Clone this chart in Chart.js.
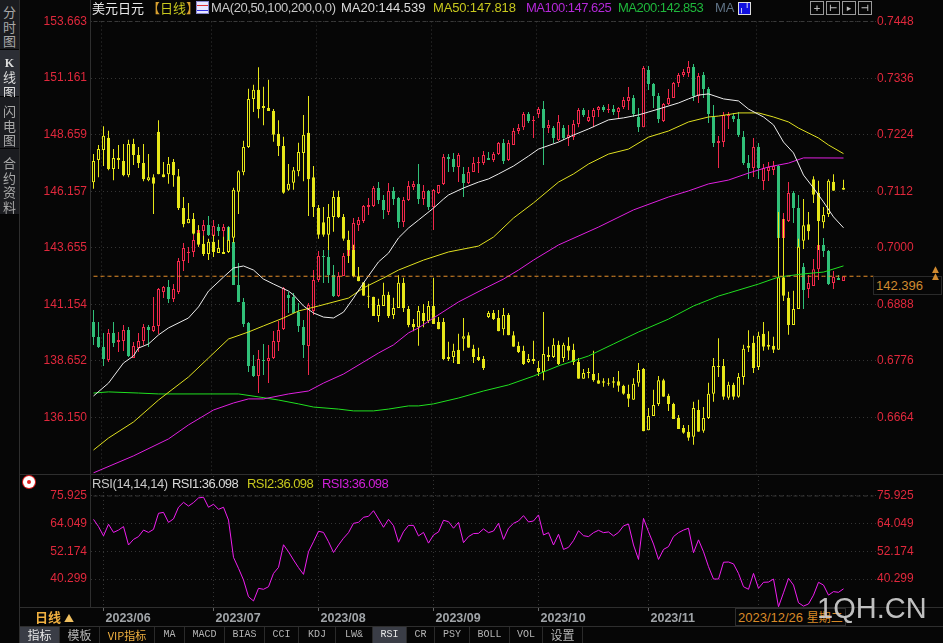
<!DOCTYPE html>
<html><head><meta charset="utf-8">
<script src="https://cdn.jsdelivr.net/npm/chart.js@4/dist/chart.umd.min.js"></script>
<style>
html,body{margin:0;padding:0;background:#060606;width:943px;height:643px;overflow:hidden;font-family:"Liberation Sans",Arial,sans-serif}
#c1,#c2,.a{position:absolute}
#c1{left:0;top:0}#c2{left:0;top:474px}
.a{white-space:nowrap}
.line{background:#2e2e2e}
.side{left:0;width:19px;background:#1b1c20;color:#a8a8a8;text-align:center;font:13px/14.5px "Noto Sans CJK SC";border-bottom:1px solid #050505;box-sizing:border-box;padding-top:5px}
.leg{top:0;font-size:13px;line-height:16px}
.tab{top:627px;height:16px;text-align:center;font:10px/16px "Liberation Mono",monospace;color:#b4b4b4;border-right:1px solid #2a2a2a;box-sizing:border-box}
.tab.cn{font:12px/16px "Noto Sans CJK SC"}
.tbtn{top:1px;width:12px;height:12px;border:1px solid #9a9a9a;color:#bbb;font:bold 9px/12px "DejaVu Sans";text-align:center}
</style></head><body>
<canvas id="c1" width="943" height="474"></canvas>
<canvas id="c2" width="943" height="153"></canvas>

<div class="a line" style="left:19px;top:0;width:1px;height:643px"></div>
<div class="a line" style="left:90px;top:0;width:1px;height:608px"></div>
<div class="a line" style="left:20px;top:474px;width:923px;height:1px"></div>
<div class="a line" style="left:20px;top:607px;width:923px;height:1px"></div>
<div class="a line" style="left:20px;top:626px;width:923px;height:1px"></div>

<div class="a side" style="top:0;height:50px">分<br>时<br>图</div>
<div class="a side" style="top:50px;height:47px;background:#2c2e35;color:#ddd"><b style="font:bold 12px/14px 'Liberation Serif'">K</b><br>线<br>图</div>
<div class="a side" style="top:97px;height:52px;padding-top:7px">闪<br>电<br>图</div>
<div class="a side" style="top:149px;height:66px;padding-top:7px">合<br>约<br>资<br>料</div>

<div class="a leg" style="left:92px;font:13px/16px 'Noto Sans CJK SC';color:#e8e8e8">美元日元 <span style="color:#d8a030">【</span><span style="color:#c8c81e">日线</span><span style="color:#d8a030">】</span></div>
<div class="a" style="left:196px;top:1px;width:11px;height:11px;background:#e8e8ff;border:1px solid #8888cc;overflow:hidden"><div style="width:11px;height:4px;margin-top:3px;border-top:1px solid #e03030;border-bottom:1px solid #3030e0"></div></div>
<div class="a leg" style="left:211px;color:#c8c8c8;letter-spacing:-.4px">MA(20,50,100,200,0,0)</div>
<div class="a leg" style="left:341px;color:#dcdcdc">MA20:144.539</div>
<div class="a leg" style="left:433px;color:#c8c81e;letter-spacing:-.15px">MA50:147.818</div>
<div class="a leg" style="left:526px;color:#b428d8;letter-spacing:-.5px">MA100:147.625</div>
<div class="a leg" style="left:618px;color:#1fb83c;letter-spacing:-.5px">MA200:142.853</div>
<div class="a leg" style="left:715px;color:#5f7285">MA</div>
<div class="a" style="left:738px;top:2px;width:11px;height:11px;background:#1010e0;border:1px solid #ddd;color:#fff;font:bold 9px/11px 'DejaVu Sans';text-align:center">╷╵</div>
<div class="a tbtn" style="left:810px">+</div>
<div class="a tbtn" style="left:826px">⊢</div>
<div class="a tbtn" style="left:842px">▸</div>
<div class="a tbtn" style="left:858px">⊣</div>

<div class="a" style="left:873px;top:276px;width:67px;height:17px;border:1px solid #2a2a2a;box-sizing:content-box;color:#d08a30;font-size:13px;line-height:17px;text-indent:2px;background:#060606">142.396</div>
<div class="a" style="left:932px;top:266px;color:#d08a30;font:9px/7px 'DejaVu Sans'">▲<br>▲</div>

<div class="a" style="left:23px;top:476px;width:12px;height:12px;border-radius:6px;background:#fff;border:0;box-shadow:0 0 0 1px #e02020"><div style="width:4px;height:4px;margin:4px;border-radius:2px;background:#e02020"></div></div>
<div class="a leg" style="left:92px;top:476px;color:#c8c8c8;letter-spacing:-.4px">RSI(14,14,14)</div>
<div class="a leg" style="left:172px;top:476px;color:#dcdcdc;letter-spacing:-.55px">RSI1:36.098</div>
<div class="a leg" style="left:247px;top:476px;color:#c8c81e;letter-spacing:-.55px">RSI2:36.098</div>
<div class="a leg" style="left:322px;top:476px;color:#d020d8;letter-spacing:-.55px">RSI3:36.098</div>

<div class="a" style="left:20px;top:608px;width:69px;height:18px;text-align:center;color:#f0b040;font:bold 13px/18px 'Noto Sans CJK SC'">日线 <span style="font-size:10px;color:#f0c060">▲</span></div>
<div class="a" style="left:735px;top:608px;width:109px;height:16px;border:1px solid #2e2e2e;background:#060606;color:#d88a28;font:13px/16px 'Liberation Sans','Noto Sans CJK SC';text-indent:2px">2023/12/26 <span style="font-family:'Noto Sans CJK SC';font-size:12px">星期二</span></div>
<div class="a" style="left:817px;top:591px;color:#d0d0d0;font:29px/34px 'Liberation Sans';opacity:.92">1QH.CN</div>

<div class="a tab cn" style="left:20px;width:40px;background:#3a3d46;color:#e8e8e8">指标</div>
<div class="a tab cn" style="left:60px;width:40px">模板</div>
<div class="a tab cn" style="left:100px;width:55px;color:#f0b040;font-size:11px">VIP指标</div>
<div class="a tab" style="left:155px;width:30px">MA</div>
<div class="a tab" style="left:185px;width:40px">MACD</div>
<div class="a tab" style="left:225px;width:40px">BIAS</div>
<div class="a tab" style="left:265px;width:34px">CCI</div>
<div class="a tab" style="left:299px;width:37px">KDJ</div>
<div class="a tab" style="left:336px;width:37px">LW&amp;</div>
<div class="a tab" style="left:373px;width:34px;background:#3a3d46;color:#e8e8e8">RSI</div>
<div class="a tab" style="left:407px;width:28px">CR</div>
<div class="a tab" style="left:435px;width:35px">PSY</div>
<div class="a tab" style="left:470px;width:40px">BOLL</div>
<div class="a tab" style="left:510px;width:33px">VOL</div>
<div class="a tab cn" style="left:543px;width:40px">设置</div>

<script>
// ---------- axis labels ----------
const leftTicks=[153.663,151.161,148.659,146.157,143.655,141.154,138.652,136.150];
const rightTicks=[0.7448,0.7336,0.7224,0.7112,0.7000,0.6888,0.6776,0.6664];
const rsiTicks=[75.925,64.049,52.174,40.299];
const monthTicks={2:'2023/06',24:'2023/07',45:'2023/08',68:'2023/09',89:'2023/10',111:'2023/11',133:''};
const lastPrice=142.396;

// ---------- USD/JPY candles (left axis) ----------
const jpyOpen=[140.37,139.71,139.27,138.69,139.89,139.49,139.53,140.02,138.78,139.22,
139.53,140.15,139.97,140.20,141.70,141.92,141.39,141.70,143.07,143.42,
143.47,144.00,144.40,144.66,144.18,144.57,144.40,144.57,143.91,142.01,
141.26,140.33,138.43,137.98,138.69,138.65,138.78,139.49,140.06,141.57,
141.48,140.81,140.15,139.31,140.86,142.23,143.29,143.25,142.45,141.52,
142.41,143.29,143.56,144.66,144.84,145.46,145.50,146.30,145.77,145.24,
146.17,145.86,144.80,145.77,146.34,146.48,145.81,146.17,145.46,146.08,
146.48,147.67,147.58,147.23,146.92,146.52,147.01,147.40,147.40,147.63,
147.54,147.80,148.29,147.54,148.20,148.82,148.99,149.57,149.26,149.57,
149.79,148.95,148.95,148.42,148.95,148.51,148.55,149.13,149.75,149.26,
149.44,149.75,149.88,149.75,149.79,149.66,149.88,150.15,150.28,149.44,
148.99,151.52,150.90,150.37,149.26,150.01,150.28,150.94,151.30,151.39,
151.65,150.37,151.30,150.68,149.44,148.29,148.33,149.48,149.48,149.35,
148.55,147.40,147.18,148.11,146.61,147.05,147.10,147.27,144.09,144.84,
146.08,145.41,142.80,141.83,141.96,142.71,143.78,143.51,142.10,142.32,142.19];
const jpyHigh=[140.90,140.37,139.89,140.06,140.37,139.93,140.24,140.15,139.49,139.89,
140.28,140.24,141.48,141.88,141.96,142.23,142.05,143.20,143.87,143.69,
144.22,144.66,144.88,145.06,144.88,144.71,144.71,144.62,144.00,142.98,
141.43,140.37,138.91,139.13,139.40,139.36,139.97,140.42,141.92,141.70,
141.65,141.21,140.46,141.21,142.67,143.51,143.56,143.78,142.89,142.58,
143.42,144.00,144.97,145.02,145.55,145.86,146.39,146.56,145.99,146.52,
146.34,145.90,145.90,146.61,146.61,147.36,146.43,146.21,146.25,146.43,
147.80,147.80,147.85,147.85,147.23,147.23,147.67,147.67,147.94,147.89,
147.89,148.33,148.47,148.42,148.95,149.13,149.66,149.66,149.48,149.88,
150.15,149.31,149.04,149.53,149.08,149.08,149.31,149.84,149.84,149.75,
149.84,149.93,149.97,150.01,149.97,149.88,150.32,150.77,150.41,149.84,
151.69,151.69,150.94,150.50,150.06,150.68,150.99,151.39,151.56,151.92,
151.78,151.39,151.43,150.77,149.97,148.60,149.66,149.66,149.62,149.66,
148.82,147.76,148.51,148.29,147.36,147.45,147.49,147.32,145.19,146.56,
146.17,145.99,142.98,142.45,143.16,143.78,144.09,143.56,142.63,142.45,142.396];
const jpyLow=[139.36,139.22,138.43,138.60,139.27,139.05,139.09,138.82,138.78,139.05,
139.36,139.27,139.93,139.84,141.43,141.21,141.26,141.61,142.63,142.98,
143.25,143.69,144.18,144.18,143.96,144.18,144.13,143.87,142.01,141.26,
140.15,138.16,137.94,137.23,138.03,137.67,138.74,139.09,140.02,140.77,
140.77,139.93,138.78,138.03,140.68,142.14,142.10,142.10,141.48,141.48,
142.41,142.98,143.56,144.40,144.75,145.11,145.46,145.59,144.93,145.11,
145.55,144.53,144.57,145.72,146.21,145.59,145.55,145.33,144.44,146.03,
146.43,147.01,147.01,146.56,145.90,146.48,147.01,146.96,147.32,147.54,
147.45,147.76,147.36,147.49,148.20,148.69,148.86,149.17,148.51,149.39,
147.32,148.73,148.29,148.38,148.42,148.16,148.42,148.99,149.44,149.22,
148.99,149.44,149.66,149.62,149.53,149.39,149.79,149.75,149.44,148.78,
148.99,150.63,149.84,149.17,149.22,149.97,150.28,150.77,151.21,151.21,
150.15,150.06,150.28,149.17,148.11,147.18,148.11,148.91,149.22,148.55,
147.32,146.70,146.79,146.70,146.21,146.61,146.87,144.09,144.00,144.80,
144.75,143.56,140.95,141.43,141.96,142.23,143.25,142.01,141.83,142.23,142.19];
const jpyClose=[139.71,139.27,138.74,139.89,139.44,139.58,140.02,138.87,139.31,139.53,
140.15,140.02,140.20,141.83,141.92,141.39,141.83,143.07,143.65,143.47,
144.00,144.44,144.66,144.22,144.62,144.40,144.57,143.91,142.01,141.26,
140.28,138.43,137.98,138.74,138.65,138.78,139.53,140.02,141.88,141.43,
140.77,140.20,139.36,141.12,142.23,143.29,143.25,142.45,141.52,142.41,
143.29,143.56,144.75,144.88,145.50,145.55,146.30,145.77,145.33,146.17,
145.81,144.80,145.77,146.39,146.48,145.81,146.17,145.46,146.21,146.43,
147.67,147.58,147.23,147.76,146.52,147.01,147.40,147.45,147.76,147.54,
147.80,148.29,147.49,148.29,148.82,148.95,149.57,149.26,149.31,149.79,
148.95,149.08,148.51,149.22,148.51,148.64,149.13,149.75,149.53,149.44,
149.75,149.88,149.75,149.79,149.66,149.84,150.19,150.32,149.57,148.99,
151.61,150.90,150.37,149.35,150.01,150.28,150.94,151.30,151.43,151.65,
150.37,151.25,150.68,149.57,148.29,148.38,149.53,149.53,149.35,148.64,
147.40,147.18,148.11,147.18,147.18,147.23,147.27,144.09,144.93,146.08,
145.41,143.56,141.79,142.10,142.71,143.78,143.51,142.05,142.36,142.23,142.396];

// ---------- overlay candles, yellow (right axis) ----------
const ovOpen=[.7130,.7174,.7194,.7218,.7156,.7178,.7172,.7144,.7206,.7184,
.7168,.7134,.7140,.7230,.7146,.7146,.7170,.7142,.7079,.7049,
.7057,.7030,.7008,.6988,.7012,.6990,.6992,.6992,.7020,.7111,
.7150,.7200,.7295,.7313,.7281,.7277,.7271,.7226,.7202,.7115,
.7129,.7152,.7188,.7228,.7140,.7079,.7051,.7026,.7061,.7101,
.7061,.7016,.6996,.6944,.6932,.6905,.6903,.6865,.6885,.6907,
.6867,.6881,.6931,.6879,.6849,.6843,.6871,.6855,.6885,.6853,
.6853,.6784,.6784,.6798,.6820,.6827,.6800,.6784,.6780,.6863,
.6871,.6861,.6839,.6867,.6827,.6806,.6796,.6774,.6780,.6762,
.6754,.6788,.6784,.6808,.6782,.6806,.6798,.6774,.6741,.6754,
.6750,.6738,.6736,.6733,.6736,.6736,.6727,.6711,.6699,.6733,
.6760,.6639,.6667,.6691,.6738,.6707,.6691,.6663,.6643,.6636,
.6626,.6679,.6638,.6663,.6711,.6766,.6766,.6703,.6729,.6705,
.6744,.6802,.6812,.6764,.6830,.6808,.6806,.6798,.6942,.6901,
.6847,.6879,.7014,.7047,.7136,.7109,.7051,.7067,.7131,null,.7119];
const ovHigh=[.7186,.7204,.7241,.7232,.7196,.7204,.7206,.7214,.7216,.7200,
.7206,.7186,.7146,.7253,.7170,.7180,.7176,.7156,.7101,.7089,
.7069,.7045,.7024,.7018,.7026,.7016,.7022,.7041,.7119,.7154,
.7212,.7315,.7323,.7358,.7319,.7333,.7275,.7253,.7220,.7166,
.7160,.7208,.7263,.7301,.7162,.7085,.7081,.7087,.7113,.7113,
.7067,.7034,.7006,.6962,.6932,.6929,.6903,.6899,.6931,.6913,
.6901,.6946,.6941,.6885,.6859,.6885,.6889,.6895,.6941,.6863,
.6861,.6814,.6810,.6830,.6861,.6833,.6808,.6802,.6786,.6875,
.6877,.6877,.6881,.6871,.6835,.6814,.6806,.6790,.6816,.6776,
.6873,.6804,.6821,.6816,.6812,.6823,.6810,.6782,.6760,.6762,
.6796,.6752,.6742,.6742,.6744,.6756,.6729,.6729,.6742,.6772,
.6762,.6683,.6719,.6746,.6741,.6711,.6693,.6669,.6649,.6649,
.6695,.6699,.6685,.6733,.6782,.6821,.6780,.6735,.6733,.6752,
.6808,.6837,.6826,.6834,.6853,.6835,.6824,.7071,.7057,.6913,
.6915,.7018,.7097,.7071,.7142,.7133,.7081,.7136,.7146,null,.7135];
const ovLow=[.7117,.7140,.7162,.7154,.7134,.7156,.7142,.7140,.7164,.7158,
.7132,.7132,.7067,.7146,.7140,.7127,.7121,.7075,.7041,.7049,
.7026,.7002,.6984,.6976,.6982,.6990,.6988,.6990,.7010,.7067,
.7144,.7198,.7269,.7257,.7243,.7271,.7210,.7182,.7107,.7113,
.7115,.7142,.7132,.7063,.7061,.7018,.7022,.6996,.7032,.7059,
.7014,.6970,.6942,.6934,.6905,.6881,.6865,.6853,.6885,.6861,
.6859,.6881,.6873,.6843,.6835,.6806,.6843,.6851,.6849,.6839,
.6778,.6776,.6772,.6770,.6796,.6802,.6772,.6776,.6758,.6861,
.6857,.6835,.6827,.6827,.6804,.6792,.6768,.6772,.6770,.6746,
.6738,.6776,.6782,.6768,.6774,.6778,.6768,.6741,.6741,.6742,
.6735,.6731,.6725,.6727,.6723,.6715,.6709,.6685,.6699,.6725,
.6637,.6639,.6667,.6687,.6705,.6677,.6661,.6641,.6632,.6618,
.6610,.6636,.6634,.6661,.6695,.6744,.6699,.6699,.6699,.6703,
.6729,.6794,.6752,.6758,.6796,.6798,.6792,.6798,.6895,.6828,
.6847,.6879,.6998,.7016,.7089,.6996,.7039,.7061,.7113,null,.7115];
const ovClose=[.7172,.7196,.7222,.7156,.7178,.7174,.7144,.7206,.7184,.7168,
.7136,.7140,.7127,.7146,.7140,.7166,.7144,.7079,.7047,.7057,
.7028,.7006,.6988,.7012,.6992,.7000,.6988,.7016,.7115,.7152,
.7200,.7295,.7313,.7275,.7277,.7271,.7224,.7202,.7109,.7127,
.7154,.7190,.7224,.7136,.7081,.7026,.7026,.7061,.7101,.7061,
.7018,.6996,.6944,.6934,.6905,.6903,.6865,.6887,.6907,.6865,
.6881,.6931,.6881,.6847,.6843,.6875,.6855,.6885,.6849,.6839,
.6780,.6780,.6796,.6770,.6825,.6802,.6784,.6778,.6762,.6871,
.6859,.6835,.6867,.6827,.6804,.6794,.6770,.6780,.6776,.6754,
.6790,.6784,.6808,.6770,.6808,.6796,.6774,.6741,.6752,.6752,
.6738,.6731,.6733,.6731,.6733,.6727,.6711,.6701,.6731,.6758,
.6637,.6667,.6689,.6738,.6705,.6691,.6661,.6641,.6634,.6624,
.6683,.6636,.6663,.6711,.6766,.6764,.6705,.6729,.6705,.6744,
.6800,.6806,.6762,.6826,.6804,.6804,.6798,.6942,.6905,.6847,
.6879,.7002,.7045,.7033,.7105,.7053,.7065,.7133,.7113,null,.7115];

// ---------- moving averages: [candle index, value] vertices ----------
const ma20=[[0,137.10],[3,137.67],[6,138.56],[8,138.87],[9,139.22],[11,139.40],[13,139.80],[15,140.11],[19,140.55],[21,141.04],[23,141.74],[26,142.36],[28,142.76],[30,142.85],[32,142.67],[34,142.27],[36,142.05],[39,141.74],[40,141.57],[42,141.08],[44,140.77],[46,140.59],[48,140.55],[50,140.81],[52,141.43],[54,142.10],[57,143.03],[59,143.42],[61,144.09],[63,144.53],[65,144.88],[68,145.41],[70,145.81],[71,145.99],[74,146.30],[77,146.56],[79,146.70],[81,146.92],[84,147.27],[87,147.71],[89,148.02],[93,148.33],[96,148.64],[99,148.91],[103,149.31],[106,149.40],[109,149.53],[111,149.66],[113,149.79],[117,150.06],[119,150.24],[121,150.41],[123,150.46],[126,150.24],[129,150.15],[131,149.79],[134,149.44],[136,149.09],[138,148.33],[140,147.85],[142,146.87],[144,146.30],[146,145.68],[148,145.02],[150,144.539]];
const ma50=[[0,134.71],[3,135.24],[8,135.95],[13,136.92],[19,137.94],[23,138.78],[27,139.62],[31,139.93],[34,140.20],[38,140.55],[41,140.86],[45,141.08],[51,141.43],[54,141.88],[58,142.32],[61,142.67],[66,143.11],[71,143.47],[77,143.73],[80,144.13],[84,144.97],[88,145.64],[93,146.56],[96,146.92],[99,147.36],[103,147.80],[107,148.02],[111,148.55],[115,148.82],[119,149.22],[123,149.44],[125,149.48],[129,149.62],[133,149.62],[136,149.44],[139,149.22],[141,148.95],[145,148.51],[147,148.20],[150,147.818]];
const ma100=[[0,133.70],[8,134.45],[15,135.20],[19,135.82],[24,136.48],[28,136.79],[31,136.97],[34,136.97],[39,137.19],[43,137.32],[46,137.67],[50,138.07],[54,138.60],[57,139.00],[60,139.36],[63,139.89],[65,140.11],[68,140.55],[73,141.26],[78,141.83],[82,142.27],[85,142.67],[88,143.11],[93,143.78],[101,144.57],[108,145.33],[115,145.90],[119,146.17],[123,146.48],[127,146.65],[131,146.96],[135,147.23],[139,147.40],[142,147.63],[150,147.625]];
const ma200=[[0,137.23],[3,137.28],[9,137.23],[13,137.19],[29,137.19],[33,137.06],[37,136.92],[41,136.75],[44,136.61],[49,136.52],[52,136.44],[56,136.44],[59,136.52],[63,136.66],[65,136.66],[68,136.75],[73,137.01],[78,137.32],[83,137.59],[88,137.98],[93,138.43],[99,138.87],[104,139.40],[109,139.93],[115,140.50],[120,141.08],[125,141.52],[127,141.65],[133,142.05],[137,142.36],[142,142.50],[146,142.58],[150,142.853]];

// ---------- RSI ----------
const rsi=[65.9,62.8,58.8,63.8,60.3,61.3,62.8,54.9,57.3,58.5,
61.3,60.3,61.6,68.5,68.9,64.6,66.1,71.1,73.2,71.6,
73.1,75.1,75.4,71.1,72.4,70.2,71.1,65.6,49.6,44.9,
39.9,32.7,30.9,36.3,35.9,37.0,42.7,45.3,55.0,52.0,
48.5,45.2,42.3,52.0,56.3,60.8,60.3,56.3,51.7,54.9,
57.8,60.2,64.2,64.6,66.8,67.2,69.6,66.1,62.5,65.9,
63.2,56.1,60.6,63.3,63.3,58.8,60.3,55.7,59.2,60.5,
65.5,64.9,62.1,64.6,55.9,58.5,59.8,59.9,61.8,60.2,
60.9,64.2,57.3,62.1,64.2,65.2,67.5,64.8,65.2,67.8,
59.2,60.2,54.9,59.5,53.0,53.9,56.8,61.0,58.9,58.5,
60.2,61.2,60.2,60.5,58.8,60.3,63.1,63.9,54.9,48.7,
66.3,60.6,55.3,48.7,53.0,54.2,58.5,60.2,61.3,62.1,
51.6,57.1,52.0,45.6,40.3,40.3,47.5,47.6,46.8,42.7,
37.0,35.9,42.7,36.3,38.9,39.0,40.3,28.4,34.4,40.6,
37.7,30.1,28.7,29.6,33.4,38.9,37.7,33.4,34.9,34.6,36.098];

// ---------- colours ----------
const BG='#060606',RED='#f0284a',GREEN='#30c078',YEL='#e6e619',TICK='#e0283c',GRID='#343434';

// categories: weekdays from 2023/05/30, plus empty slots to the right edge
const categories=[];
(function(){let d=new Date(Date.UTC(2023,4,30));
 while(categories.length<157){const w=d.getUTCDay();
  if(w!==0&&w!==6)categories.push(d.toISOString().slice(0,10));
  d=new Date(d.getTime()+864e5);}})();

const series=v=>{const a=new Array(categories.length).fill(null);v.forEach(p=>a[p[0]]=p[1]);return a;};
const bars=(lo,hi)=>lo.map((v,i)=>v===null?null:[v,hi[i]]);
const line=(data,color,yAxisID,extra)=>Object.assign({type:'line',data,borderColor:color,borderWidth:1,pointRadius:0,
  spanGaps:true,tension:0,yAxisID,order:1,fill:false},extra||{});
const wick=(lo,hi,o,c,up,down,y,order)=>({type:'bar',data:bars(lo,hi),yAxisID:y,order,grouped:false,barThickness:1,
  inflateAmount:0,borderWidth:0,backgroundColor:o.map((v,i)=>c[i]>v?up:down)});
const body=(o,c,up,down,y,order)=>({type:'bar',data:bars(o,c),yAxisID:y,order,grouped:false,barThickness:3,
  inflateAmount:0,minBarLength:1,borderWidth:1,borderSkipped:false,
  borderColor:o.map((v,i)=>c[i]>v?up:down),
  backgroundColor:o.map((v,i)=>c[i]>v?BG:down)});

const isMonth=ctx=>ctx.index in monthTicks;
const gridX={color:ctx=>isMonth(ctx)?GRID:'transparent',drawTicks:false,lineWidth:1};
const tickFont={family:'"Liberation Sans"',size:12};
const yAxis=(pos,vals,dec,min,max,showGrid,width)=>({
  type:'linear',position:pos,min,max,
  grid:{display:showGrid,color:GRID,drawTicks:false},
  border:{display:false,dash:[1,3]},
  afterBuildTicks:s=>{s.ticks=vals.map(v=>({value:v}));},
  afterFit:s=>{s.width=width;s.paddingTop=0;s.paddingBottom=0;},
  ticks:{color:TICK,font:tickFont,padding:pos==='left'?4:1,autoSkip:false,callback:v=>v.toFixed(dec)}
});
const base={responsive:false,animation:false,events:[],
  plugins:{legend:{display:false},tooltip:{enabled:false}}};
Chart.defaults.font.family='"Liberation Sans"';

new Chart(document.getElementById('c1'),{
  data:{labels:categories,datasets:[
    line(categories.map(()=>leftTicks[0]),'#3a3a3a','y',{borderDash:[4,3],order:9,clip:false}),
    line(categories.map(()=>lastPrice),'#e8902a','y',{borderDash:[4,3],order:0}),
    line(series(ma20),'#ececec','y'),
    line(series(ma50),'#e0e020','y'),
    line(series(ma100),'#e020e0','y'),
    line(series(ma200),'#20e020','y'),
    wick(ovLow,ovHigh,ovOpen,ovClose,YEL,YEL,'y1',3),
    body(ovOpen,ovClose,YEL,YEL,'y1',2),
    wick(jpyLow,jpyHigh,jpyOpen,jpyClose,RED,GREEN,'y',5),
    body(jpyOpen,jpyClose,RED,GREEN,'y',4)
  ]},
  options:Object.assign({},base,{
    layout:{autoPadding:false,padding:{top:21.5,bottom:0.5,left:0,right:0}},
    scales:{
      x:{type:'category',offset:true,grid:gridX,border:{display:false,dash:[1,3]},
         ticks:{display:false},afterFit:s=>{s.height=0;s.paddingLeft=0;s.paddingRight=0;}},
      y:yAxis('left',leftTicks,3,133.671,153.663,true,91),
      y1:yAxis('right',rightTicks,4,0.65531,0.74484,false,67)
    }
  })
});

new Chart(document.getElementById('c2'),{
  data:{labels:categories,datasets:[
    line(categories.map(()=>rsiTicks[0]),'#3a3a3a','y',{borderDash:[4,3],order:9}),
    line(rsi,'#f01ef0','y')
  ]},
  options:Object.assign({},base,{
    layout:{autoPadding:false,padding:{top:2,bottom:0,left:0,right:0}},
    scales:{
      x:{type:'category',offset:true,
         grid:{color:ctx=>isMonth(ctx)?GRID:'transparent',tickColor:ctx=>isMonth(ctx)?'#666':'transparent',drawTicks:true,tickLength:4},
         border:{display:false,dash:[1,3]},
         afterFit:s=>{s.height=20;s.paddingLeft=0;s.paddingRight=0;},
         ticks:{color:'#a0a4a8',font:{family:'"Liberation Sans"',size:12.5,weight:'bold'},align:'start',labelOffset:2,padding:0,
           autoSkip:false,maxRotation:0,minRotation:0,callback:(v,i)=>monthTicks[i]||''}},
      y:yAxis('left',rsiTicks,3,28.3,84.5,true,91),
      y1:yAxis('right',rsiTicks,3,28.3,84.5,false,67)
    }
  })
});
</script>
</body></html>
